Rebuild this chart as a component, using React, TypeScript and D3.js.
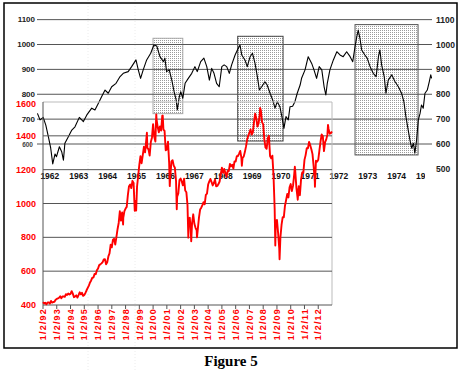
import React from 'react';
import * as d3 from 'd3';

const W = 462;
const H = 372;

// ---------- Top chart: Dow 1962-1975 (black) ----------
const topLeftTicks = [1100, 1000, 900, 800, 700];
const topLeftSmallTick = [600];
const topGridValues = [1100, 1000, 900, 800, 700, 600];
const topRightTicks = [1100, 1000, 900, 800, 700, 600, 500];
const topYears = [1962, 1963, 1964, 1965, 1966, 1967, 1968, 1969, 1970, 1971, 1972, 1973, 1974, 1975];

const djiaTimes = [
  1962.07, 1962.16, 1962.27, 1962.36, 1962.45, 1962.53, 1962.60, 1962.68, 1962.73, 1962.83, 1962.91, 1962.97,
  1963.02, 1963.14, 1963.26, 1963.37, 1963.52, 1963.66, 1963.78, 1963.95,
  1964.06, 1964.18, 1964.29, 1964.41, 1964.52, 1964.64, 1964.79, 1964.93,
  1965.04, 1965.21, 1965.33, 1965.48, 1965.56, 1965.64, 1965.73, 1965.85, 1965.99,
  1966.10, 1966.20, 1966.31, 1966.43, 1966.48, 1966.54, 1966.63, 1966.72, 1966.80, 1966.87, 1966.91, 1966.98,
  1967.03, 1967.10, 1967.18, 1967.29, 1967.41, 1967.52, 1967.60, 1967.72, 1967.83, 1967.93,
  1968.02, 1968.10, 1968.18, 1968.27, 1968.36, 1968.45, 1968.53, 1968.62, 1968.71, 1968.79, 1968.91, 1968.99,
  1969.08, 1969.14, 1969.25, 1969.33, 1969.43, 1969.51, 1969.60, 1969.68, 1969.75, 1969.83, 1969.94,
  1970.02, 1970.12, 1970.21, 1970.29, 1970.37, 1970.46, 1970.54, 1970.60, 1970.67, 1970.75, 1970.81, 1970.90, 1970.98,
  1971.06, 1971.16, 1971.21, 1971.33, 1971.44, 1971.56, 1971.64, 1971.73, 1971.82, 1971.91, 1971.99,
  1972.05, 1972.10, 1972.19, 1972.31, 1972.43, 1972.54, 1972.65, 1972.77, 1972.89, 1972.98,
  1973.06, 1973.12, 1973.17, 1973.23, 1973.29, 1973.40, 1973.48, 1973.58, 1973.69, 1973.79, 1973.87, 1973.92, 1973.98,
  1974.07, 1974.13, 1974.21, 1974.33, 1974.44, 1974.56, 1974.67, 1974.75, 1974.82, 1974.90, 1974.96,
  1975.02, 1975.08, 1975.13, 1975.19, 1975.25, 1975.31, 1975.36, 1975.42, 1975.48, 1975.56, 1975.63, 1975.68, 1975.71,
];
const djiaValues = [
  723, 697, 707, 676, 629, 583, 520, 560, 549, 589, 569, 535,
  603, 629, 656, 669, 707, 690, 717, 744,
  737, 764, 790, 817, 804, 830, 844, 871,
  884, 891, 911, 938, 898, 864, 898, 938, 965,
  998, 994, 951, 931, 945, 891, 898, 857, 810, 777, 737, 790,
  810, 784, 844, 864, 884, 911, 891, 931, 945, 911,
  857, 904, 884, 844, 830, 911, 918, 911, 884, 918, 958, 978,
  998, 958, 938, 911, 951, 965, 924, 871, 817, 830, 850,
  837, 804, 777, 744, 770, 750, 703, 663, 710, 697, 750, 752, 770,
  804, 837, 864, 898, 951, 924, 898, 864, 911, 898, 830,
  797, 844, 898, 938, 971, 958, 951, 971, 951, 931,
  991, 1031, 1058, 1025, 978, 958, 945, 911, 884, 871, 951, 978, 918,
  871, 804, 857, 878, 851, 830, 804, 770, 710, 656, 616,
  583, 603, 563, 616, 697, 723, 757, 744, 804, 817, 851, 878, 864,
];

// highlighted periods: [start, end, high, low]
const boxStarts = [1966.07, 1969.0, 1973.06];
const boxEnds = [1967.1, 1970.57, 1975.24];
const boxHighs = [1025, 1033, 1080];
const boxLows = [722, 612, 556];
const boxStrokes = ['#a8a8a8', '#444', '#555'];

// ---------- Inset chart: S&P 500 1992-2012 (red) ----------
const spStartYear = 1992;
const spMonthly = [
  417,
  409, 413, 404, 415, 415, 408, 424, 414, 418, 419, 431, 436,
  439, 443, 452, 440, 450, 451, 448, 464, 459, 468, 462, 466,
  482, 467, 446, 451, 457, 444, 458, 475, 463, 472, 454, 459,
  471, 487, 501, 515, 533, 545, 562, 562, 584, 582, 605, 616,
  636, 640, 646, 654, 669, 671, 640, 652, 687, 705, 757, 741,
  786, 791, 757, 801, 848, 885, 954, 899, 947, 915, 955, 970,
  980, 1049, 1102, 1112, 1091, 1134, 1121, 957, 1017, 1099, 1164, 1229,
  1280, 1238, 1286, 1335, 1302, 1373, 1329, 1320, 1283, 1363, 1389, 1469,
  1394, 1366, 1499, 1452, 1421, 1455, 1431, 1518, 1437, 1429, 1315, 1320,
  1366, 1240, 1160, 1249, 1256, 1224, 1211, 1134, 1041, 1060, 1139, 1148,
  1130, 1107, 1147, 1077, 1067, 990, 912, 916, 815, 886, 936, 880,
  856, 841, 848, 917, 964, 975, 990, 1008, 996, 1051, 1058, 1112,
  1131, 1145, 1126, 1107, 1121, 1141, 1102, 1104, 1115, 1130, 1174, 1212,
  1181, 1204, 1181, 1157, 1192, 1191, 1234, 1220, 1229, 1207, 1249, 1248,
  1280, 1281, 1295, 1311, 1270, 1270, 1277, 1304, 1336, 1378, 1401, 1418,
  1438, 1407, 1421, 1482, 1531, 1503, 1455, 1474, 1527, 1549, 1481, 1468,
  1379, 1331, 1323, 1386, 1400, 1280, 1267, 1283, 1165, 969, 896, 903,
  826, 735, 798, 873, 919, 919, 987, 1021, 1057, 1036, 1096, 1115,
  1074, 1104, 1169, 1187, 1089, 1031, 1102, 1049, 1141, 1183, 1181, 1258,
  1286, 1327, 1326, 1364, 1345, 1321, 1292, 1219, 1131, 1253, 1247, 1258,
  1312, 1366, 1408, 1398, 1310, 1362, 1379, 1407, 1441, 1412, 1416, 1426,
];
// intramonth highs / lows
const spExtremeTimes = [1997.82, 1998.77, 1999.55, 2000.23, 2000.70, 2001.21, 2001.72, 2002.56, 2002.77, 2003.19, 2006.45, 2007.78, 2008.88, 2009.19, 2010.30, 2010.51, 2011.33, 2011.76, 2012.71];
const spExtremeValues = [876, 959, 1418, 1527, 1520, 1103, 966, 798, 777, 800, 1223, 1565, 752, 670, 1217, 1022, 1363, 1099, 1465];

const spTicks = [400, 600, 800, 1000, 1200, 1400, 1600];
const spYearLabels = ['1/2/92', '1/2/93', '1/2/94', '1/2/95', '1/2/96', '1/2/97', '1/2/98', '1/2/99', '1/2/00', '1/2/01', '1/2/02', '1/2/03', '1/2/04', '1/2/05', '1/2/06', '1/2/07', '1/2/08', '1/2/09', '1/2/10', '1/2/11', '1/2/12'];

const FONT = "'Liberation Sans Narrow', 'Arial Narrow', 'Liberation Sans', Arial, sans-serif";

export default function App() {
  const xTop = d3.scaleLinear().domain([1966, 1975]).range([151, 151 + 9 * 28.9]);
  const yTop = d3.scaleLinear().domain([600, 1000]).range([144, 44.5]);
  const xBot = d3.scaleLinear().domain([1992, 2013]).range([43, 332]);
  const yBot = d3.scaleLinear().domain([400, 1600]).range([305, 102]);

  const djia: [number, number][] = djiaTimes.map((t, i) => [t, djiaValues[i]]);
  const sp: [number, number][] = spMonthly
    .map((v, i) => [spStartYear + i / 12, v] as [number, number])
    .concat(spExtremeTimes.map((t, i) => [t, spExtremeValues[i]] as [number, number]))
    .sort((a, b) => a[0] - b[0]);

  const topLine = d3.line<[number, number]>().x(d => xTop(d[0])).y(d => yTop(d[1]));
  const botLine = d3.line<[number, number]>().x(d => xBot(d[0])).y(d => yBot(d[1]));

  const gridL = 37;
  const gridR = 432;
  const [bx0, bx1] = xBot.range();
  const [byBottom, byTop] = yBot.range();

  return (
    <svg width={W} height={H} style={{ position: 'absolute', left: 0, top: 0, background: '#fff' }}>
      <defs>
        <pattern id="dots" width="2" height="2" patternUnits="userSpaceOnUse">
          <rect x="0" y="0" width="1" height="1" fill="#9a9a9a" />
        </pattern>
        <clipPath id="yearClip">
          <rect x="0" y="0" width="425" height={H} />
        </clipPath>
      </defs>
      <rect x={0} y={0} width={W} height={H} fill="#fff" />
      {/* faint vertical artifacts */}
      {[88, 135].map((x, i) => (
        <line key={i} x1={x} x2={x} y1={0} y2={H} stroke="#ececec" strokeDasharray="1,2" />
      ))}

      {/* highlight boxes */}
      {boxStarts.map((t0, i) => (
        <rect key={i} x={xTop(t0)} y={yTop(boxHighs[i])} width={xTop(boxEnds[i]) - xTop(t0)}
          height={yTop(boxLows[i]) - yTop(boxHighs[i])} fill="url(#dots)" stroke={boxStrokes[i]} strokeWidth={1} />
      ))}

      {/* top chart gridlines */}
      {topGridValues.map(v => (
        <line key={v} x1={gridL} x2={gridR} y1={yTop(v)} y2={yTop(v)} stroke="#555" strokeWidth={1} />
      ))}
      {topLeftTicks.map(v => (
        <text key={v} x={35} y={yTop(v) + 2.5} textAnchor="end" fontFamily={FONT} fontWeight="bold" fontSize={8} fill="#222">{v}</text>
      ))}
      {topLeftSmallTick.map(v => (
        <text key={v} x={33} y={yTop(v) + 2.5} textAnchor="end" fontFamily={FONT} fontWeight="bold" fontSize={6.5} fill="#444">{v}</text>
      ))}
      {topRightTicks.map(v => (
        <text key={v} x={436} y={yTop(v) + 3} textAnchor="start" fontFamily={FONT} fontWeight="bold" fontSize={8.5} fill="#222">{v}</text>
      ))}

      {/* top chart year labels */}
      <g clipPath="url(#yearClip)">
        {topYears.map(y => (
          <text key={y} x={xTop(y + 0.5)} y={179} textAnchor="middle" fontFamily={FONT} fontWeight="bold" fontSize={8.5} fill="#111">{y}</text>
        ))}
      </g>

      {/* black line */}
      <path d={topLine(djia) || ''} fill="none" stroke="#000" strokeWidth={1.1} strokeLinejoin="round" />

      {/* inset chart */}
      <line x1={bx0} x2={bx1} y1={byTop} y2={byTop} stroke="#bbb" strokeWidth={1} />
      <line x1={bx1} x2={bx1} y1={byTop} y2={byBottom} stroke="#bbb" strokeWidth={1} />
      {spTicks.filter(v => v !== 400 && v !== 1600).map(v => (
        <line key={v} x1={bx0} x2={bx1} y1={yBot(v)} y2={yBot(v)} stroke="#555" strokeWidth={1} />
      ))}
      <line x1={bx0} x2={bx1} y1={byBottom} y2={byBottom} stroke="#555" strokeWidth={1} />
      <line x1={bx0} x2={bx0} y1={byTop} y2={byBottom} stroke="#555" strokeWidth={1} />
      {spTicks.map(v => (
        <text key={v} x={36} y={yBot(v) + (v === 1600 ? 4.5 : 3)} textAnchor="end" fontFamily={FONT} fontWeight="bold" fontSize={9} fill="#ff0000">{v}</text>
      ))}
      {spYearLabels.map((lab, i) => {
        const x = xBot(spStartYear + i);
        return (
          <g key={lab}>
            <line x1={x} x2={x} y1={byBottom} y2={byBottom + 4} stroke="#555" />
            <text transform={`translate(${x + 3.2},${byBottom + 3}) rotate(-90)`} textAnchor="end"
              fontFamily={FONT} fontWeight="bold" fontSize={9} letterSpacing={1.2} fill="#ff0000">{lab}</text>
          </g>
        );
      })}

      {/* red line */}
      <path d={botLine(sp) || ''} fill="none" stroke="#ff0000" strokeWidth={1.9} strokeLinejoin="round" />

      {/* frame and caption */}
      <rect x={4} y={3} width={453} height={345} fill="none" stroke="#000" strokeWidth={1.5} />
      <text x={231} y={366} textAnchor="middle" fontFamily="'Liberation Serif', 'Times New Roman', serif" fontWeight="bold" fontSize={15} fill="#000">Figure 5</text>
    </svg>
  );
}
